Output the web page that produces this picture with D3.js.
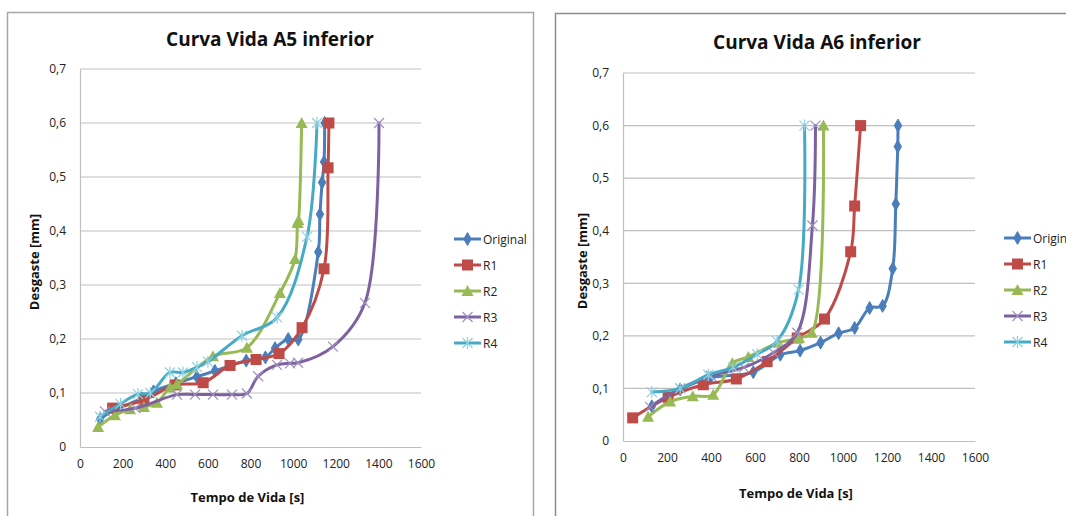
<!DOCTYPE html>
<html>
<head>
<meta charset="utf-8">
<script src="https://cdn.jsdelivr.net/npm/d3@7"></script>
<style>
  html, body { margin: 0; padding: 0; background: #fff; }
  svg { display: block; font-family: "Open Sans", "Liberation Sans", sans-serif; }
</style>
</head>
<body>
<svg id="chart" width="1066" height="516"></svg>
<script>
// Wear (Desgaste) versus tool life (Tempo de Vida) for the lower inserts A5 and A6.
const seriesNames = ["Original", "R1", "R2", "R3", "R4"];
const seriesColors = ["#4A7EBB", "#BE4B48", "#98B954", "#7D60A0", "#46AAC5"];
const markerTypes = ["diamond", "square", "triangle", "x", "star"];

const xTicks = [0, 200, 400, 600, 800, 1000, 1200, 1400, 1600];
const yTicks = [0, 0.1, 0.2, 0.3, 0.4, 0.5, 0.6, 0.7];

// Chart A5 inferior
const a5Original = [[95, 0.052], [160, 0.068], [290, 0.09], [345, 0.103], [450, 0.118], [548, 0.13], [633, 0.141], [780, 0.16], [870, 0.166], [915, 0.183], [977, 0.2], [1024, 0.199], [1118, 0.361], [1126, 0.431], [1136, 0.49], [1145, 0.528], [1148, 0.6]];
const a5R1 = [[153, 0.072], [300, 0.087], [446, 0.115], [578, 0.119], [704, 0.151], [826, 0.162], [934, 0.173], [1042, 0.221], [1145, 0.33], [1164, 0.517], [1168, 0.6]];
const a5R2 = [[85, 0.037], [164, 0.059], [235, 0.07], [300, 0.074], [361, 0.082], [422, 0.11], [455, 0.116], [624, 0.168], [783, 0.184], [938, 0.285], [1009, 0.348], [1021, 0.415], [1025, 0.42], [1040, 0.6]];
const a5R3 = [[117, 0.066], [260, 0.072], [455, 0.097], [540, 0.097], [624, 0.097], [713, 0.097], [783, 0.099], [836, 0.131], [924, 0.152], [985, 0.155], [1023, 0.156], [1187, 0.186], [1337, 0.267], [1403, 0.6]];
const a5R4 = [[94, 0.056], [190, 0.08], [272, 0.098], [330, 0.1], [422, 0.138], [483, 0.138], [549, 0.148], [600, 0.158], [760, 0.206], [925, 0.24], [1065, 0.389], [1112, 0.6]];

// Chart A6 inferior
const a6Original = [[131, 0.066], [260, 0.098], [397, 0.12], [592, 0.131], [715, 0.164], [805, 0.172], [898, 0.187], [980, 0.205], [1053, 0.215], [1121, 0.253], [1180, 0.257], [1226, 0.328], [1240, 0.451], [1249, 0.56], [1250, 0.6]];
const a6R1 = [[44, 0.044], [205, 0.083], [365, 0.107], [515, 0.118], [655, 0.151], [792, 0.196], [916, 0.232], [1035, 0.36], [1053, 0.447], [1080, 0.6]];
const a6R2 = [[114, 0.046], [214, 0.075], [317, 0.085], [410, 0.088], [497, 0.148], [570, 0.16], [706, 0.187], [800, 0.196], [858, 0.206], [911, 0.6]];
const a6R3 = [[123, 0.065], [260, 0.1], [400, 0.124], [550, 0.14], [684, 0.168], [792, 0.206], [861, 0.41], [875, 0.6]];
const a6R4 = [[131, 0.093], [260, 0.1], [388, 0.126], [500, 0.14], [610, 0.165], [700, 0.19], [798, 0.288], [825, 0.6]];

const charts = [
  {
    title: "Curva Vida A5 inferior",
    series: [a5Original, a5R1, a5R2, a5R3, a5R4],
    frame: { x: 7, y: 12, w: 526, h: 520, stroke: "#a6a6a6" },
    plot: { left: 80, right: 421, top: 69, bottom: 447 },
    titleY: 46, titleX: 270,
    yLabelX: 39, xLabelY: 502,
    legend: { x: 454, y0: 239, step: 26 }
  },
  {
    title: "Curva Vida A6 inferior",
    series: [a6Original, a6R1, a6R2, a6R3, a6R4],
    frame: { x: 555, y: 13, w: 520, h: 520, stroke: "#8c8c8c" },
    plot: { left: 623, right: 975, top: 73, bottom: 441 },
    titleY: 49, titleX: 817,
    yLabelX: 587, xLabelY: 498,
    legend: { x: 1004, y0: 238, step: 26 }
  }
];

const svg = d3.select("#chart");

function drawMarker(g, type, color) {
  if (type === "diamond") {
    g.append("path").attr("d", d3.symbol().type(d3.symbolDiamond).size(48)())
      .attr("fill", color).attr("stroke", color).attr("stroke-width", 1);
  } else if (type === "square") {
    g.append("rect").attr("x", -5.5).attr("y", -5.5).attr("width", 11).attr("height", 11)
      .attr("fill", color);
  } else if (type === "triangle") {
    g.append("path").attr("d", "M0,-6L6,5L-6,5Z").attr("fill", color);
  } else if (type === "x") {
    g.append("path").attr("d", "M-5,-5L5,5M-5,5L5,-5")
      .attr("stroke", "#9f8fc0").attr("stroke-width", 1.2).attr("fill", "none");
  } else if (type === "star") {
    g.append("path").attr("d", "M-5,-5L5,5M-5,5L5,-5M0,-6L0,6")
      .attr("stroke", "#8fd0e0").attr("stroke-width", 1.2).attr("fill", "none");
  }
}

charts.forEach(c => {
  const g = svg.append("g");

  g.append("rect")
    .attr("x", c.frame.x + 0.5).attr("y", c.frame.y + 0.5)
    .attr("width", c.frame.w).attr("height", c.frame.h)
    .attr("fill", "#fff").attr("stroke", c.frame.stroke).attr("stroke-width", 1.5);

  const x = d3.scaleLinear().domain([0, 1600]).range([c.plot.left, c.plot.right]);
  const y = d3.scaleLinear().domain([0, 0.7]).range([c.plot.bottom, c.plot.top]);

  // horizontal gridlines
  g.append("g").selectAll("line").data(yTicks.filter(t => t > 0)).join("line")
    .attr("x1", c.plot.left).attr("x2", c.plot.right)
    .attr("y1", d => y(d)).attr("y2", d => y(d))
    .attr("stroke", "#bfbfbf").attr("stroke-width", 1.2);

  // axes
  const yAxis = g.append("g").attr("transform", `translate(${c.plot.left},0)`)
    .call(d3.axisLeft(y).tickValues(yTicks).tickSize(0).tickPadding(14)
      .tickFormat(d => d === 0 ? "0" : d3.format(".1f")(d).replace(".", ",")));
  const xAxis = g.append("g").attr("transform", `translate(0,${c.plot.bottom})`)
    .call(d3.axisBottom(x).tickValues(xTicks).tickSize(0).tickPadding(12)
      .tickFormat(d3.format("d")));
  [xAxis, yAxis].forEach(a => {
    a.select(".domain").attr("stroke", "#bfbfbf").attr("stroke-width", 1.2);
    a.selectAll("text").attr("font-size", 12).attr("fill", "#222")
      .attr("font-family", "'Open Sans', sans-serif");
  });

  // title and axis titles
  g.append("text").attr("x", c.titleX).attr("y", c.titleY)
    .attr("text-anchor", "middle").attr("font-size", 20).attr("font-weight", "bold")
    .attr("textLength", 208).attr("lengthAdjust", "spacingAndGlyphs")
    .attr("fill", "#111").text(c.title);
  g.append("text")
    .attr("transform", `translate(${c.yLabelX},${(c.plot.top + c.plot.bottom) / 2 + 4}) rotate(-90)`)
    .attr("text-anchor", "middle").attr("font-size", 13).attr("font-weight", "bold")
    .attr("fill", "#111").text("Desgaste [mm]");
  g.append("text").attr("x", (c.plot.left + c.plot.right) / 2 - 3).attr("y", c.xLabelY)
    .attr("text-anchor", "middle").attr("font-size", 13).attr("font-weight", "bold")
    .attr("fill", "#111").text("Tempo de Vida [s]");

  // smoothed series lines and markers
  const line = d3.line().x(d => x(d[0])).y(d => y(d[1])).curve(d3.curveCatmullRom.alpha(0.5));
  c.series.forEach((data, i) => {
    const sg = g.append("g");
    sg.append("path").datum(data).attr("d", line)
      .attr("fill", "none").attr("stroke", seriesColors[i]).attr("stroke-width", 3)
      .attr("stroke-linejoin", "round").attr("stroke-linecap", "round");
    data.forEach(d => {
      drawMarker(sg.append("g").attr("transform", `translate(${x(d[0])},${y(d[1])})`),
        markerTypes[i], seriesColors[i]);
    });
  });

  // legend
  seriesNames.forEach((name, i) => {
    const ly = c.legend.y0 + i * c.legend.step;
    const lg = g.append("g");
    lg.append("line").attr("x1", c.legend.x).attr("x2", c.legend.x + 27)
      .attr("y1", ly).attr("y2", ly).attr("stroke", seriesColors[i]).attr("stroke-width", 3);
    drawMarker(lg.append("g").attr("transform", `translate(${c.legend.x + 13.5},${ly})`),
      markerTypes[i], seriesColors[i]);
    lg.append("text").attr("x", c.legend.x + 29).attr("y", ly + 4.5)
      .attr("font-size", 12).attr("fill", "#222").text(name);
  });
});
</script>
</body>
</html>
